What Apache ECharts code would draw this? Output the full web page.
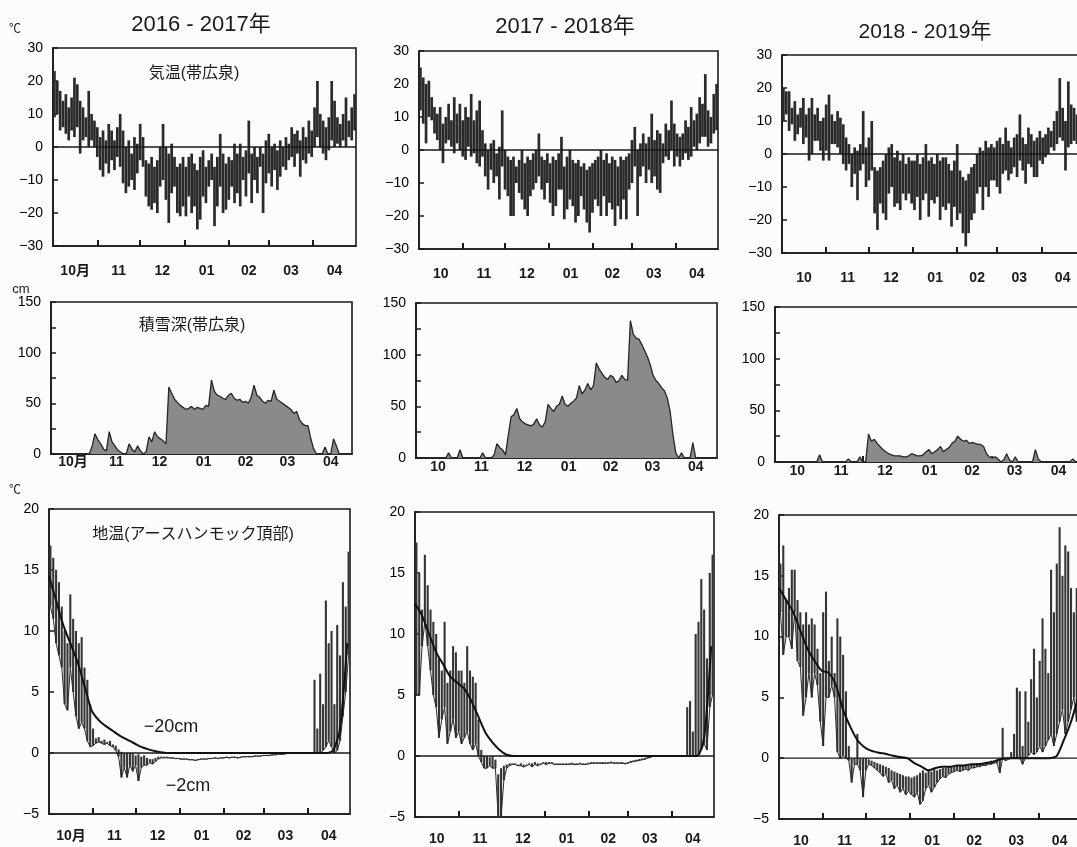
<!DOCTYPE html>
<html><head><meta charset="utf-8">
<script src="https://cdn.jsdelivr.net/npm/echarts@6/dist/echarts.min.js"></script>
<style>html,body{margin:0;padding:0;background:#fcfcfa}#c{width:1077px;height:847px}</style>
</head><body><div id="c"></div>
<script>
// ---- calendar / tick labels (Oct 1 .. Apr 30, day index 0..212) ----
const monthDays = [31,30,31,31,28,31,30];
const monthLabelsFirst = ['10月','11','12','01','02','03','04'];
const monthLabels = ['10','11','12','01','02','03','04'];
const seasonTitles = ['2016 - 2017年','2017 - 2018年','2018 - 2019年'];

// ---- air temperature (帯広泉), daily max / min sampled every 2 days (day 1,3,5,...) ----
const airHi2016 = [23,20,17,14,16,12,15,21,19,14, 12,9,17,10,8,6,3,5,2,7, 5,2,6,10,5,0,2,-2,3,1, 7,3,-4,-5,-3,-6,-4,0,7,0, -2,1,-3,-6,-5,-3,-6,-3,-2,-5, -7,-3,-1,-6,-4,-2,-6,-3,4,-2, -5,-3,-4,1,-2,1,-3,-1,8,-2, 0,-3,0,-2,2,4,0,1,-1,2, 0,3,1,6,4,5,2,6,3,8, 5,12,20,10,8,6,9,20,14,9, 7,10,15,8,12,16];
const airLo2016 = [9,10,5,6,4,2,5,3,6,-2, 2,3,0,2,0,-3,-7,-9,-5,-8, -4,-7,-3,-6,-11,-14,-12,-10,-13,-8, -4,-6,-15,-18,-19,-17,-20,-12,-10,-16, -23,-14,-12,-20,-21,-18,-21,-15,-20,-18, -25,-22,-15,-17,-12,-10,-24,-18,-12,-20, -19,-16,-12,-17,-14,-18,-10,-15,-8,-17, -10,-14,-6,-20,-11,-8,-12,-7,-13,-9, -6,-7,-4,-3,-6,-2,-9,-4,-5,-2, -3,0,3,0,-2,-4,-1,2,0,1, 0,2,0,3,2,5];
const airHi2017 = [25,22,20,21,16,13,11,13,8,10, 14,9,16,11,14,9,13,10,17,9, 12,15,6,2,0,2,3,-1,1,12, 0,-2,-3,-2,-5,-3,0,-4,-2,-3, -1,0,5,-2,-3,-1,-4,-2,-3,-1, 4,-5,-2,0,-3,-4,-3,-5,-4,-6, -5,-4,-3,-2,0,-3,-1,-4,-2,-3, -5,-2,-3,-2,-1,3,7,0,2,5, 2,4,11,3,6,5,2,8,6,15, 8,5,4,5,9,7,13,9,11,16, 14,23,12,10,17,20];
const airLo2017 = [12,8,2,10,9,5,3,0,-4,2, 3,1,-1,2,0,-2,-3,1,-2,-1, -4,-5,-2,-8,-12,-6,-10,-8,-15,-5, -12,-14,-20,-20,-10,-13,-15,-18,-20,-14, -12,-10,-8,-12,-15,-10,-16,-20,-17,-12, -12,-21,-18,-15,-17,-22,-20,-14,-18,-22, -25,-19,-15,-17,-20,-14,-20,-16,-18,-23, -17,-21,-15,-21,-12,-10,-5,-20,-8,-5, -10,-6,-10,-8,-12,-13,-4,-2,-3,0, -5,-2,-5,-3,-1,-3,-2,1,0,2, 4,4,1,2,5,6];
const airHi2018 = [20,19,19,14,16,12,14,17,12,14, 17,12,14,10,11,15,18,12,10,13, 11,9,5,3,0,2,1,3,13,2, 5,10,-4,-5,-4,-2,0,2,3,-1, 1,-2,0,-3,-1,-2,-2,0,-3,-1, 3,-2,-1,-3,0,-2,-1,-1,-3,-5, -2,3,-5,-7,-8,-6,-4,-3,0,2, 1,4,2,3,2,4,5,3,8,4, 2,5,6,12,5,3,8,6,4,5, 7,5,6,8,7,10,13,23,14,10, 22,15,14,12,15,16];
const airLo2018 = [10,12,7,9,4,6,8,3,5,-2, 0,4,4,1,-2,1,-2,3,3,2, 0,-3,-5,-3,-10,-6,-14,-5,-3,-10, -8,-5,-18,-23,-15,-18,-20,-12,-10,-16, -15,-17,-12,-14,-12,-15,-17,-13,-20,-14, -12,-19,-14,-15,-13,-20,-16,-17,-15,-22, -16,-20,-18,-24,-28,-24,-20,-18,-12,-10, -17,-10,-13,-8,-8,-10,-12,-6,-5,-8, -6,-4,-7,-2,-5,-9,-3,-4,-7,-7, -2,-3,-1,0,2,1,3,5,4,-5, 2,3,4,3,5,6];

// ---- snow depth (帯広泉, cm), every 2 days ----
const snow2016 = [0,0,0,0,0,0,0,0,0,0, 0,0,0,0,8,20,14,10,5,3, 22,12,8,4,2,0,0,10,5,2, 8,3,0,2,17,12,22,17,15,13, 10,66,60,54,51,48,46,44,45,47, 44,46,45,44,48,47,73,62,58,57, 55,54,58,60,55,53,54,51,52,50, 56,68,58,56,52,50,53,52,63,54, 52,50,48,46,44,40,42,34,30,28, 28,15,5,0,0,0,7,0,0,15, 8,0,0,0,0,0];
const snow2017 = [0,0,0,0,0,0,0,0,0,0, 0,5,0,0,0,8,0,0,0,0, 0,0,0,5,0,0,0,3,14,10, 8,3,22,40,42,48,38,35,33,32, 31,33,38,32,30,35,52,48,45,50, 52,60,52,50,53,55,58,70,62,66, 72,66,70,92,86,82,78,76,80,78, 73,75,80,76,75,133,120,116,115,110, 104,98,90,80,75,72,68,65,58,45, 22,5,0,5,0,0,0,15,0,0, 0,0,0,0,0,0];
const snow2018 = [0,0,0,0,0,0,0,0,0,0, 0,0,0,0,0,7,0,0,0,0, 0,0,0,0,0,3,0,0,0,5, 0,0,27,20,22,18,15,12,10,8, 7,6,6,6,5,5,6,8,7,6, 6,7,10,12,8,10,12,15,10,12, 14,18,20,25,22,20,21,18,19,18, 17,17,15,8,5,4,5,3,0,2, 8,2,0,5,0,0,0,0,0,0, 12,3,0,0,0,0,0,0,0,0, 0,0,0,3,0,0];

// ---- ground temperature at -2cm (daily max / min, every 2 days) ----
const soil2Hi2016 = [17,16,15,14,12,10,9,13,11,10, 9,9.5,7,6,4,2,1.2,1.3,1.0,1.1, 0.9,1.0,0.7,0.6,0.3,0.1,0,0,0,0, -0.2,-0.1,-0.3,-0.2,-0.4,-0.5,-0.5,-0.4,-0.3,-0.3, -0.3,-0.3,-0.4,-0.4,-0.45,-0.45,-0.5,-0.5,-0.5,-0.55, -0.55,-0.6,-0.55,-0.5,-0.5,-0.5,-0.45,-0.45,-0.4,-0.45, -0.4,-0.4,-0.35,-0.4,-0.35,-0.35,-0.4,-0.35,-0.3,-0.3, -0.3,-0.3,-0.25,-0.25,-0.25,-0.2,-0.2,-0.2,-0.15,-0.15, -0.1,-0.1,-0.1,-0.05,0,0,0,0,0,0, 0,0,0,6,2,6.5,4,12.5,9,10, 4,10.5,8,14,12,16.5];
const soil2Lo2016 = [12,11,9,8,7,4,3.5,7,5,3, 2,2.5,2,1,0.5,0.6,0.8,0.9,0.8,0.7, 0.8,0.6,0.5,0.2,-0.3,-2.0,-1.2,-2.0,-1.0,-1.5, -1.0,-2.3,-1.2,-1.0,-1.0,-0.8,-0.9,-0.7,-0.5,-0.4, -0.4,-0.4,-0.4,-0.4,-0.45,-0.45,-0.5,-0.5,-0.5,-0.55, -0.55,-0.6,-0.55,-0.5,-0.5,-0.5,-0.45,-0.45,-0.4,-0.45, -0.4,-0.4,-0.35,-0.4,-0.35,-0.35,-0.4,-0.35,-0.3,-0.3, -0.3,-0.3,-0.25,-0.25,-0.25,-0.2,-0.2,-0.2,-0.15,-0.15, -0.1,-0.1,-0.1,-0.05,0,0,0,0,0,0, 0,0,0,0,0,0,0.2,0.5,1,0.5, 0,0.2,1,3,5,8];
const soil2Hi2017 = [17.5,15,12,16.5,14,12,11,10,8,7, 11,6,7,9,8.5,7,7,6,9,7, 6.5,6,3,0.5,0,0,-0.1,0,-0.3,-1.5, -1,-0.8,-0.7,-0.6,-0.6,-0.6,-0.7,-0.6,-0.7,-0.7, -0.6,-0.6,-0.5,-0.6,-0.6,-0.5,-0.5,-0.5,-0.5,-0.6, -0.6,-0.6,-0.6,-0.6,-0.6,-0.6,-0.6,-0.6,-0.55,-0.6, -0.6,-0.55,-0.5,-0.5,-0.5,-0.5,-0.55,-0.5,-0.5,-0.5, -0.5,-0.5,-0.5,-0.55,-0.55,-0.5,-0.45,-0.4,-0.35,-0.3, -0.25,-0.2,-0.1,-0.05,0,0,0,0,0,0, 0,0,0,0,0,0,4,4.5,2,10, 11,14.5,12,8,15,16.5];
const soil2Lo2017 = [5,5,9,11,9,7,5,4,1.5,3, 4,1,2,3,1.5,2,1,1.5,2,1, 0.5,1,0,-0.5,-1,-1,-0.8,-1,-1,-5, -5,-2,-1,-0.8,-0.7,-0.7,-0.8,-0.8,-0.9,-0.8, -0.7,-0.9,-0.7,-0.8,-0.7,-0.6,-0.7,-0.6,-0.6,-0.7, -0.7,-0.7,-0.7,-0.7,-0.7,-0.65,-0.7,-0.7,-0.65,-0.7, -0.7,-0.65,-0.6,-0.6,-0.6,-0.6,-0.6,-0.6,-0.6,-0.55, -0.6,-0.6,-0.6,-0.6,-0.65,-0.6,-0.5,-0.45,-0.4,-0.35, -0.3,-0.25,-0.15,-0.1,0,0,0,0,0,0, 0,0,0,0,0,0,0,0,0,0, 0.2,0.5,1,0.5,4,5];
const soil2Hi2018 = [16,17.5,13,14,15.5,15.5,13,12,11,12, 11,11.5,11,9,7,12,13.7,8,10,7, 11.5,10,8.5,5.5,1,0,0,2,0,0, 0,-0.1,-0.2,-0.3,-0.4,-0.5,-0.6,-0.7,-0.8,-1.0, -1.1,-1.2,-1.3,-1.4,-1.5,-1.5,-1.6,-1.5,-1.4,-1.2, -1.0,-1.2,-1.0,-1.1,-0.9,-1.0,-0.9,-0.8,-0.8,-0.7, -0.7,-0.7,-0.6,-0.6,-0.6,-0.5,-0.6,-0.5,-0.5,-0.4, -0.4,-0.4,-0.3,-0.3,-0.2,-0.2,-0.1,0,2.5,0, 0,0.5,2,5.8,5.5,1,5.5,3,6.5,9, 5,8,11.5,9,7,15.5,12,16,19,15, 17.5,17,14,12,14,15];
const soil2Lo2018 = [12,8.5,10,10,9,12,8,7.5,3.5,5, 7,5,7,6,3,1,5,5,6,5, 0.5,0,0.2,0,-0.2,-2,-0.5,-0.5,-1,-3.2, -1,-0.5,-0.6,-0.8,-1.0,-1.2,-1.5,-1.3,-2.0,-1.8, -2.5,-2.2,-2.8,-2.5,-3.0,-2.7,-3.0,-3.2,-2.8,-3.8, -3.5,-2.5,-2.2,-2.8,-2.4,-2.0,-1.7,-1.5,-1.6,-1.3, -1.2,-1.1,-1.0,-1.1,-1.0,-0.9,-1.0,-0.8,-0.8,-0.7, -0.7,-0.6,-0.6,-0.5,-0.5,-0.4,-0.4,-1.2,0,-0.2, -0.1,0,0,0,0,-0.5,0,0.2,0.5,0.3, 0.5,1,0.5,1,1.5,2,1,2,3,4, 2,3,4,5,3,5];

// ---- ground temperature at -20cm, every 5 days (day 0,5,10,...,210) ----
const soil20_2016 = [14.5,12.5,10.5,9,7.5,5.5,3.5,2.7,2.2,1.8,1.4,1.1,0.8,0.5,0.3,0.15,0.05, 0,0,0,0,0,0,0,0,0,0,0,0,0,0,0,0,0,0,0,0,0,0,0, 0.2,2,9];
const soil20_2017 = [12.5,11.5,10,8.5,7.5,6.5,6,5.5,4.5,3.2,1.9,1.1,0.5,0.1, 0,0,0,0,0,0,0,0,0,0,0,0,0,0,0,0,0,0,0,0,0,0,0,0,0,0,0, 1.5,9];
const soil20_2018 = [14,13,12,10.5,9,8,7.2,7,6,4,2.6,1.5,0.9,0.6,0.45,0.35,0.2,0.1,0,-0.4,-0.7,-1.0,-0.8,-0.7,-0.7,-0.6,-0.6,-0.5,-0.5,-0.4,-0.3,-0.1,0,0,0,0,0,0,0,0.2,1.5,3,5];

// ---------------------------------------------------------------
const FONT = '"Liberation Sans", Arial, "Noto Sans CJK JP", sans-serif';
const INK = '#1a1a1a';
const totalDays = monthDays.reduce((a,b)=>a+b,0);
const monthStarts = []; { let acc = 0; monthDays.forEach(n => { monthStarts.push(acc); acc += n; }); }
const tickVals = monthStarts.slice(1);
const midVals = monthStarts.map((s,i)=>s+monthDays[i]/2);

const grids = [
  {left:53, top:48, width:303, height:198},
  {left:419, top:51, width:299, height:198},
  {left:782, top:55, width:302, height:198},
  {left:51, top:302, width:301, height:152},
  {left:416, top:303, width:301, height:155},
  {left:775, top:307, width:305, height:155},
  {left:49, top:509, width:301, height:305},
  {left:415, top:512, width:299, height:305},
  {left:779, top:515, width:302, height:304}
].map(g => Object.assign({show:true, borderColor:INK, borderWidth:1.6, backgroundColor:'transparent', containLabel:false, outerBoundsMode:'none'}, g));

const labelMargins = [18,18,18,1,2,2,15,15,15];
const xAxes = grids.map((g, i) => {
  const labels = (i % 3 === 0) ? monthLabelsFirst : monthLabels;
  return {
    type:'value', gridIndex:i, min:0, max:totalDays,
    axisLine:{show:true, onZero:false, lineStyle:{color:INK, width:1.6}},
    splitLine:{show:false},
    axisTick:{show:true, inside:true, length:6, customValues:tickVals, lineStyle:{color:INK, width:2}},
    axisLabel:{show:true, customValues:midVals, margin:labelMargins[i], fontSize:14, fontWeight:'bold', fontFamily:FONT, color:INK,
      formatter: v => { const k = midVals.findIndex(m => Math.abs(m - v) < 0.01); return k >= 0 ? labels[k] : ''; }}
  };
});

const fmtY = v => v < 0 ? '−' + Math.abs(v) : String(v);
const yAxes = grids.map((g, i) => {
  const row = Math.floor(i / 3);
  const base = {
    type:'value', gridIndex:i,
    axisLine:{show:true, onZero:false, lineStyle:{color:INK, width:1.6}},
    splitLine:{show:false},
    axisTick:{show:true, inside:true, length:5, lineStyle:{color:INK, width:1.5}},
    axisLabel:{fontSize:14, fontFamily:FONT, color:'#000', margin:10, formatter:fmtY}
  };
  if (row === 0) Object.assign(base, {min:-30, max:30, interval:10});
  if (row === 1) Object.assign(base, {min:0, max:150, interval:50, minorTick:{show:true, splitNumber:2, length:5, lineStyle:{color:INK, width:1.5}}});
  if (row === 2) Object.assign(base, {min:-5, max:20, interval:5});
  return base;
});

function rangeRender(color, width) {
  return function (params, api) {
    const x = api.value(0), lo = api.value(1), hi = api.value(2);
    const a = api.coord([x, lo]), b = api.coord([x, hi]);
    let y1 = a[1], y2 = b[1];
    if (Math.abs(y1 - y2) < 1) { y1 += 0.6; y2 -= 0.6; }
    return {type:'line', shape:{x1:a[0], y1:y1, x2:b[0], y2:y2}, style:{stroke:color, lineWidth:width}};
  };
}
const ranges = (hi, lo) => hi.map((h, i) => [2 * i + 1, lo[i], h]);
const pts = (arr, step, off) => arr.map((v, i) => [i * step + off, v]);
const zeroLine = g => ({type:'line', xAxisIndex:g, yAxisIndex:g, data:[[0,0],[totalDays,0]], symbol:'none', silent:true, z:5,
  lineStyle:{color:INK, width:1.3}});

const air = [[airHi2016, airLo2016],[airHi2017, airLo2017],[airHi2018, airLo2018]];
const snow = [snow2016, snow2017, snow2018];
const soil = [[soil2Hi2016, soil2Lo2016, soil20_2016],[soil2Hi2017, soil2Lo2017, soil20_2017],[soil2Hi2018, soil2Lo2018, soil20_2018]];

const series = [];
air.forEach((a, k) => {
  series.push({type:'custom', xAxisIndex:k, yAxisIndex:k, data:ranges(a[0], a[1]), encode:{x:0, y:[1,2]},
    renderItem:rangeRender('#2a2a2a', 2.7), silent:true, z:3});
  series.push(zeroLine(k));
});
snow.forEach((s, k) => {
  const g = 3 + k;
  series.push({type:'line', xAxisIndex:g, yAxisIndex:g, data:pts(s, 2, 1), symbol:'none', silent:true, z:3,
    lineStyle:{color:'#262626', width:1.3}, areaStyle:{color:'#8a8a8a', opacity:1}});
});
soil.forEach((s, k) => {
  const g = 6 + k;
  series.push({type:'custom', xAxisIndex:g, yAxisIndex:g, data:ranges(s[0], s[1]), encode:{x:0, y:[1,2]},
    renderItem:rangeRender('#353535', 2.1), silent:true, z:3});
  series.push({type:'line', xAxisIndex:g, yAxisIndex:g, data:pts(s[1], 2, 1), symbol:'none', silent:true, z:4,
    lineStyle:{color:'#2a2a2a', width:1}});
  series.push({type:'line', xAxisIndex:g, yAxisIndex:g, data:pts(s[2], 5, 0), symbol:'none', silent:true, z:6, smooth:0.25,
    lineStyle:{color:'#111', width:2}});
  series.push(zeroLine(g));
});

function txt(x, y, text, size, extra) {
  return Object.assign({type:'text', x:x, y:y, silent:true, z:20,
    style:Object.assign({text:text, fontSize:size, fontFamily:FONT, fill:INK, align:'center', verticalAlign:'middle', textAlign:'center', textVerticalAlign:'middle'}, extra || {})});
}
const graphics = [
  txt(201, 25, seasonTitles[0], 22),
  txt(565, 27, seasonTitles[1], 22),
  txt(925, 32, seasonTitles[2], 21),
  txt(15, 30, '℃', 12),
  txt(21, 289, 'cm', 13),
  txt(15, 491, '℃', 12),
  txt(194, 74, '気温(帯広泉)', 16),
  txt(192, 326, '積雪深(帯広泉)', 16),
  txt(193, 535, '地温(アースハンモック頂部)', 16),
  txt(171, 727, '−20cm', 18),
  txt(188, 786, '−2cm', 18)
];

const chart = echarts.init(document.getElementById('c'), null, {renderer:'canvas'});
chart.setOption({
  backgroundColor:'#fcfcfa',
  animation:false,
  grid:grids, xAxis:xAxes, yAxis:yAxes, series:series, graphic:graphics
});
</script>
</body></html>
